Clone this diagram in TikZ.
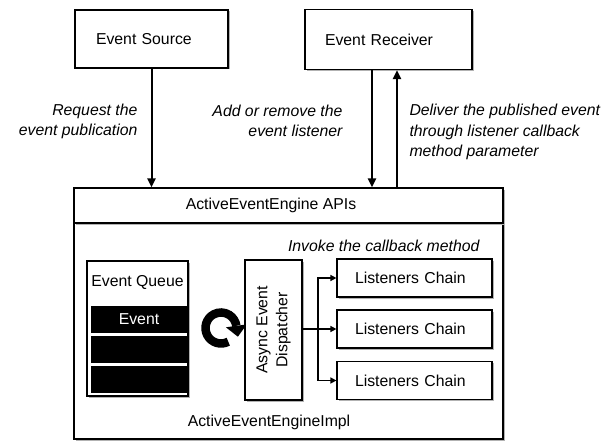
\documentclass[tikz,border=0pt]{standalone}
\usepackage{fontspec}
\setmainfont{Liberation Sans}
\usepackage{tikz}
\usetikzlibrary{arrows.meta,shadows,calc}

\tikzset{
  box/.style={draw, line width=1.2pt, fill=white,
    drop shadow={shadow xshift=1.5pt, shadow yshift=-1.5pt, fill=gray!60, opacity=1}},
  cell/.style={fill=black, text=white, minimum width=96pt, minimum height=27pt, inner sep=0pt},
  chainbox/.style={box, minimum height=38pt, inner xsep=18pt, text width=119pt, align=left},
  bigarrow/.style={-{Triangle[length=9pt,width=8pt]}, line width=2pt},
  smallarrow/.style={-{Triangle[length=6pt,width=6pt]}, line width=1.4pt}
}

\begin{document}
\begin{tikzpicture}[x=1pt, y=-1pt, every node/.style={font=\fontsize{15.8}{20}\selectfont}]
    \useasboundingbox (0,0) rectangle (613,441);

    \node[box, minimum height=58pt, inner xsep=21pt, text width=111pt, align=left] (src) at (151.5,39) {Event Source};
    \node[box, minimum height=60pt, inner xsep=20pt, text width=127pt, align=left] (rcv) at (388.5,39.5) {Event Receiver};

    \node[box, minimum width=429pt, minimum height=216pt] (impl) at (288.5,331) {};
    \node[box, minimum width=429pt, minimum height=35pt] (api) at (288.5,205.5) {};
    \node (apitxt) at (271,205) {ActiveEventEngine APIs};
    \node (impltxt) at (269,422) {ActiveEventEngineImpl};

    \draw[bigarrow] (src.south) -- (src.south |- api.north);
    \draw[bigarrow] ([xshift=-16.5pt]rcv.south) -- ([xshift=-16.5pt]rcv.south |- api.north);
    \draw[bigarrow] ([xshift=8.5pt]rcv.south |- api.north) -- ([xshift=8.5pt]rcv.south);

    \node[font=\fontsize{15.8}{20}\selectfont\itshape, align=right, anchor=east] (req) at (141,121) {Request the\\event publication};
    \node[font=\fontsize{15.8}{20}\selectfont\itshape, align=right, anchor=east] (add) at (346,121) {Add or remove the\\event listener};
    \node[font=\fontsize{15.8}{20.5}\selectfont\itshape, align=left, anchor=west] (dlv) at (406,132) {Deliver the published event\\through listener callback\\method parameter};

    \node[box, minimum width=101pt, minimum height=135pt] (queue) at (137.5,328.5) {};
    \node (qtitle) at (137.5,282) {Event Queue};
    \node[cell] (ev1) at (139,319.5) {Event};
    \node[cell] (ev2) at (139,349.5) {};
    \node[cell] (ev3) at (139,379.5) {};

    \coordinate (loop) at (221,328);
    \draw[line width=8.5pt] (loop) ++(62:15.5) arc[start angle=62, end angle=352, radius=15.5];
    \fill ($(loop)+(352:5)$) -- ($(loop)+(352:26)$) -- ($(loop)+(352:15.5)+(82:11)$) -- cycle;

    \node[box, rotate=90, minimum width=140pt, minimum height=57pt, align=center] (disp) at (273.5,330) {Async Event\\Dispatcher};

    \node[font=\fontsize{15.8}{20}\selectfont\itshape, anchor=east] (invoke) at (483,246) {Invoke the callback method};
    \node[chainbox] (lc1) at (414.5,278) {Listeners Chain};
    \node[chainbox] (lc2) at (414.5,329) {Listeners Chain};
    \node[chainbox] (lc3) at (414.5,380.5) {Listeners Chain};

    \coordinate (trunk) at (318,329);
    \draw[smallarrow] (disp.south |- lc2.west) -- (lc2.west);
    \draw[smallarrow] (trunk) |- (lc1.west);
    \draw[smallarrow] (trunk) |- (lc3.west);
\end{tikzpicture}
\end{document}
